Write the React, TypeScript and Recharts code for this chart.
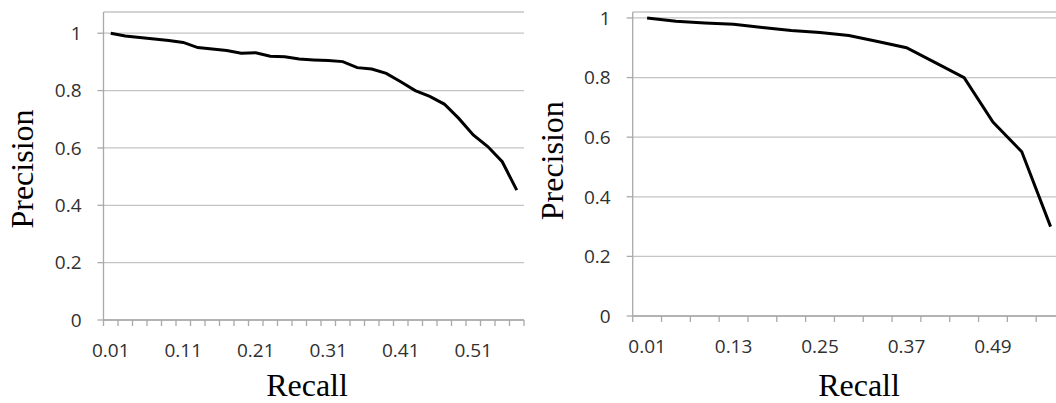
import React from 'react';
import { LineChart, Line, XAxis, YAxis, CartesianGrid, Label } from 'recharts';

// ---- Left chart data ----
const leftRecall = [
  '0.01', '0.03', '0.05', '0.07', '0.09', '0.11', '0.13', '0.15', '0.17', '0.19',
  '0.21', '0.23', '0.25', '0.27', '0.29', '0.31', '0.33', '0.35', '0.37', '0.39',
  '0.41', '0.43', '0.45', '0.47', '0.49', '0.51', '0.53', '0.55', '0.57',
];
const leftPrecision = [
  1.0, 0.99, 0.985, 0.98, 0.975, 0.968, 0.95, 0.945, 0.94, 0.93,
  0.932, 0.92, 0.918, 0.91, 0.907, 0.905, 0.901, 0.88, 0.875, 0.86,
  0.831, 0.8, 0.78, 0.753, 0.703, 0.645, 0.605, 0.552, 0.453,
];

// ---- Right chart data ----
const rightRecall = [
  '0.01', '0.05', '0.09', '0.13', '0.17', '0.21', '0.25', '0.29',
  '0.33', '0.37', '0.41', '0.45', '0.49', '0.53', '0.57',
];
const rightPrecision = [
  1.0, 0.989, 0.983, 0.979, 0.968, 0.958, 0.951, 0.941,
  0.921, 0.9, 0.85, 0.8, 0.651, 0.551, 0.3,
];

const precisionTicks = [0, 0.2, 0.4, 0.6, 0.8, 1];

const leftData = leftRecall.map((r, i) => ({ r, p: leftPrecision[i] }));
const rightData = rightRecall.map((r, i) => ({ r, p: rightPrecision[i] }));

const AXIS = '#a9a9a9';
const GRID = '#c4c4c4';
const TICK_TEXT = '#303030';
const TICK_FONT = "'Open Sans', sans-serif";
const TITLE_FONT = "'Liberation Serif', 'Times New Roman', serif";
const TICK_SIZE = 19;

// left plot: 103.5 .. 524 => 29 bands of 14.5
const LEFT_HALF = 7.25;
// right plot: 632.7 .. 1065 => 15 bands of 28.82
const RIGHT_HALF = 14.41;

function makeCatTick(every: number, count: number, half: number, labelDy: number) {
  return (props: any) => {
    const { x, y, payload, index } = props;
    return (
      <g>
        <line x1={x - half} x2={x - half} y1={y} y2={y + 6} stroke={AXIS} strokeWidth={1.3} />
        {index === count - 1 && (
          <line x1={x + half} x2={x + half} y1={y} y2={y + 6} stroke={AXIS} strokeWidth={1.3} />
        )}
        {index % every === 0 && (
          <text
            x={x}
            y={y + labelDy}
            textAnchor="middle"
            fill={TICK_TEXT}
            fontFamily={TICK_FONT}
            fontSize={TICK_SIZE}
          >
            {payload.value}
          </text>
        )}
      </g>
    );
  };
}

function makeRecallTitle(dx: number, dy: number) {
  return (props: any) => {
    const vb = props.viewBox || { x: 0, y: 0 };
    return (
      <text
        x={vb.x + dx}
        y={vb.y + dy}
        textAnchor="middle"
        fill="#000"
        fontFamily={TITLE_FONT}
        fontSize={32}
      >
        Recall
      </text>
    );
  };
}

function makePrecisionTitle(px: number, dy: number) {
  return (props: any) => {
    const vb = props.viewBox || { x: 0, y: 0 };
    const cx = vb.x + px;
    const cy = vb.y + dy;
    return (
      <text
        x={cx}
        y={cy}
        transform={`rotate(-90, ${cx}, ${cy})`}
        textAnchor="middle"
        fill="#000"
        fontFamily={TITLE_FONT}
        fontSize={32}
      >
        Precision
      </text>
    );
  };
}

export default function App() {
  return (
    <div
      style={{
        position: 'absolute',
        left: 0,
        top: 0,
        width: 1056,
        height: 403,
        overflow: 'hidden',
        background: '#ffffff',
      }}
    >
      <div style={{ position: 'absolute', left: 0, top: 0 }}>
        <LineChart width={560} height={403} data={leftData} margin={{ top: 12, right: 36, bottom: 0, left: 0 }}>
          <CartesianGrid horizontal vertical={false} stroke={GRID} strokeWidth={1.3} />
          <XAxis
            dataKey="r"
            type="category"
            interval={0}
            height={83}
            padding={{ left: LEFT_HALF, right: LEFT_HALF }}
            axisLine={{ stroke: AXIS, strokeWidth: 1.3 }}
            tickLine={false}
            tickSize={0}
            tickMargin={0}
            tick={makeCatTick(5, leftRecall.length, LEFT_HALF, 36.5)}
          >
            <Label content={makeRecallTitle(203.5, 76)} />
          </XAxis>
          <YAxis
            type="number"
            domain={[0, 1.074]}
            ticks={precisionTicks}
            width={103.5}
            axisLine={{ stroke: AXIS, strokeWidth: 1.3 }}
            tickLine={{ stroke: AXIS, strokeWidth: 1.3 }}
            tickSize={6}
            tickMargin={16}
            tick={{ fill: TICK_TEXT, fontFamily: TICK_FONT, fontSize: TICK_SIZE }}
          >
            <Label content={makePrecisionTitle(33, 157)} />
          </YAxis>
          <Line
            type="linear"
            dataKey="p"
            stroke="#000"
            strokeWidth={3}
            dot={false}
            isAnimationActive={false}
          />
        </LineChart>
      </div>
      <div style={{ position: 'absolute', left: 530, top: 0 }}>
        <LineChart width={535} height={403} data={rightData} margin={{ top: 12, right: 0, bottom: 0, left: 0 }}>
          <CartesianGrid horizontal vertical={false} stroke={GRID} strokeWidth={1.3} />
          <XAxis
            dataKey="r"
            type="category"
            interval={0}
            height={87}
            padding={{ left: RIGHT_HALF, right: RIGHT_HALF }}
            axisLine={{ stroke: AXIS, strokeWidth: 1.3 }}
            tickLine={false}
            tickSize={0}
            tickMargin={0}
            tick={makeCatTick(3, rightRecall.length, RIGHT_HALF, 36.5)}
          >
            <Label content={makeRecallTitle(226.3, 80)} />
          </XAxis>
          <YAxis
            type="number"
            domain={[0, 1.02]}
            ticks={precisionTicks}
            width={102.7}
            axisLine={{ stroke: AXIS, strokeWidth: 1.3 }}
            tickLine={{ stroke: AXIS, strokeWidth: 1.3 }}
            tickSize={6}
            tickMargin={16}
            tick={{ fill: TICK_TEXT, fontFamily: TICK_FONT, fontSize: TICK_SIZE }}
          >
            <Label content={makePrecisionTitle(33, 148.7)} />
          </YAxis>
          <Line
            type="linear"
            dataKey="p"
            stroke="#000"
            strokeWidth={3}
            dot={false}
            isAnimationActive={false}
          />
        </LineChart>
      </div>
    </div>
  );
}
